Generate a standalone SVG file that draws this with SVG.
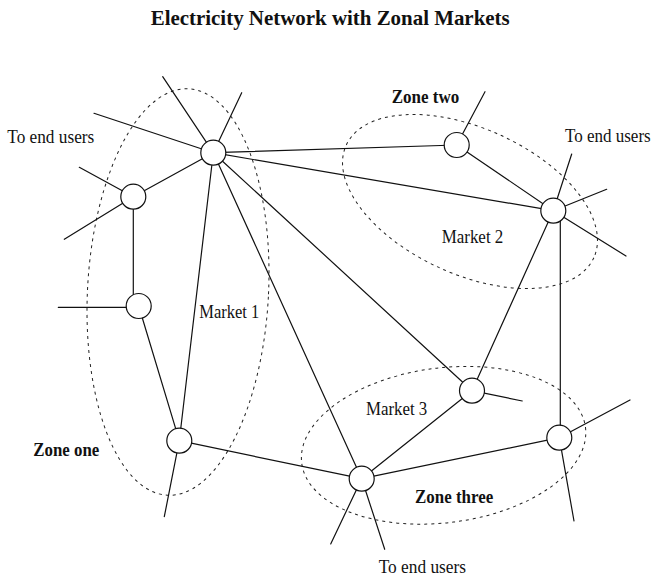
<svg xmlns="http://www.w3.org/2000/svg" width="665" height="576" viewBox="0 0 665 576">
<style>
.bg{fill:#fff}
.ln{stroke:#111;stroke-width:1.2;fill:none;stroke-linecap:round}
.zone{stroke:#222;stroke-width:1;fill:none;stroke-dasharray:3 4}
.nd{fill:#fff;stroke:#111;stroke-width:1.2}
.t{font-family:"Liberation Serif","Times New Roman",serif;font-size:19px;fill:#111}
.b{font-weight:bold}
.title{font-family:"Liberation Serif","Times New Roman",serif;font-size:21px;font-weight:bold;fill:#111}
</style>
<rect class="bg" x="0" y="0" width="665" height="576"/>
<text class="title" x="150.7" y="25" textLength="359" lengthAdjust="spacingAndGlyphs">Electricity Network with Zonal Markets</text>

<g id="zones">
  <g id="zone-one">
    <ellipse class="zone" cx="178" cy="292" rx="90.5" ry="203.5" transform="rotate(3 178 292)"/>
    <text class="t b" x="33.3" y="456" textLength="66" lengthAdjust="spacingAndGlyphs">Zone one</text>
    <text class="t" x="199.3" y="318.3" textLength="60" lengthAdjust="spacingAndGlyphs">Market 1</text>
  </g>
  <g id="zone-two">
    <ellipse class="zone" cx="470" cy="201.5" rx="136" ry="73" transform="rotate(24.4 470 201.5)"/>
    <text class="t b" x="391.7" y="102.7" textLength="67.6" lengthAdjust="spacingAndGlyphs">Zone two</text>
    <text class="t" x="441.7" y="242.7" textLength="61.6" lengthAdjust="spacingAndGlyphs">Market 2</text>
  </g>
  <g id="zone-three">
    <ellipse class="zone" cx="443.6" cy="445.3" rx="143" ry="77.4" transform="rotate(-7.2 443.6 445.3)"/>
    <text class="t b" x="415" y="502.7" textLength="78.3" lengthAdjust="spacingAndGlyphs">Zone three</text>
    <text class="t" x="366" y="415" textLength="61.3" lengthAdjust="spacingAndGlyphs">Market 3</text>
  </g>
</g>

<g id="connectors">
  <!-- lines between nodes -->
  <line class="ln" x1="213.3" y1="152.7" x2="133.3" y2="196.7"/>
  <line class="ln" x1="213.3" y1="152.7" x2="456.7" y2="145"/>
  <line class="ln" x1="213.3" y1="152.7" x2="553.3" y2="210.7"/>
  <line class="ln" x1="213.3" y1="152.7" x2="472" y2="390.7"/>
  <line class="ln" x1="213.3" y1="152.7" x2="361.7" y2="478.7"/>
  <line class="ln" x1="213.3" y1="152.7" x2="179.3" y2="440.7"/>
  <line class="ln" x1="133.3" y1="196.7" x2="133.3" y2="306"/>
  <line class="ln" x1="138.7" y1="306" x2="179.3" y2="440.7"/>
  <line class="ln" x1="179.3" y1="440.7" x2="361.7" y2="478.7"/>
  <line class="ln" x1="456.7" y1="145" x2="553.3" y2="210.7"/>
  <line class="ln" x1="553.3" y1="210.7" x2="472" y2="390.7"/>
  <line class="ln" x1="560.3" y1="210.7" x2="560.3" y2="437.7"/>
  <line class="ln" x1="472" y1="390.7" x2="361.7" y2="478.7"/>
  <line class="ln" x1="559.3" y1="437.7" x2="361.7" y2="478.7"/>
  <!-- lines to end users -->
  <line class="ln" x1="213.3" y1="152.7" x2="162.7" y2="76.7"/>
  <line class="ln" x1="213.3" y1="152.7" x2="241.7" y2="92.7"/>
  <line class="ln" x1="213.3" y1="152.7" x2="94" y2="113.3"/>
  <line class="ln" x1="133.3" y1="196.7" x2="79.3" y2="167.3"/>
  <line class="ln" x1="133.3" y1="196.7" x2="64.3" y2="239.3"/>
  <line class="ln" x1="138.7" y1="307.3" x2="58.3" y2="307.3"/>
  <line class="ln" x1="179.3" y1="440.7" x2="164.3" y2="516.7"/>
  <line class="ln" x1="456.7" y1="145" x2="485" y2="91.7"/>
  <line class="ln" x1="553.3" y1="210.7" x2="571.7" y2="154"/>
  <line class="ln" x1="553.3" y1="210.7" x2="606.7" y2="189.3"/>
  <line class="ln" x1="553.3" y1="210.7" x2="626" y2="256"/>
  <line class="ln" x1="472" y1="390.7" x2="522.3" y2="401"/>
  <line class="ln" x1="559.3" y1="437.7" x2="630" y2="400"/>
  <line class="ln" x1="559.3" y1="437.7" x2="574" y2="521"/>
  <line class="ln" x1="361.7" y1="478.7" x2="330.7" y2="544"/>
  <line class="ln" x1="361.7" y1="478.7" x2="384.7" y2="549.3"/>
</g>

<g id="node-a"><circle class="nd" cx="213.3" cy="152.7" r="12.5"/></g>
<g id="node-b"><circle class="nd" cx="133.3" cy="196.7" r="12.5"/></g>
<g id="node-c"><circle class="nd" cx="138.7" cy="306" r="12.5"/></g>
<g id="node-d"><circle class="nd" cx="179.3" cy="440.7" r="12.5"/></g>
<g id="node-e"><circle class="nd" cx="456.7" cy="145" r="12.5"/></g>
<g id="node-f"><circle class="nd" cx="553.3" cy="210.7" r="12.5"/></g>
<g id="node-g"><circle class="nd" cx="472" cy="390.7" r="12.5"/></g>
<g id="node-h"><circle class="nd" cx="559.3" cy="437.7" r="12.5"/></g>
<g id="node-i"><circle class="nd" cx="361.7" cy="478.7" r="12.5"/></g>

<g id="labels">
  <text class="t" x="7.3" y="142.7" textLength="87" lengthAdjust="spacingAndGlyphs">To end users</text>
  <text class="t" x="565" y="141.7" textLength="85.7" lengthAdjust="spacingAndGlyphs">To end users</text>
  <text class="t" x="378.7" y="573" textLength="87.3" lengthAdjust="spacingAndGlyphs">To end users</text>
</g>
</svg>
